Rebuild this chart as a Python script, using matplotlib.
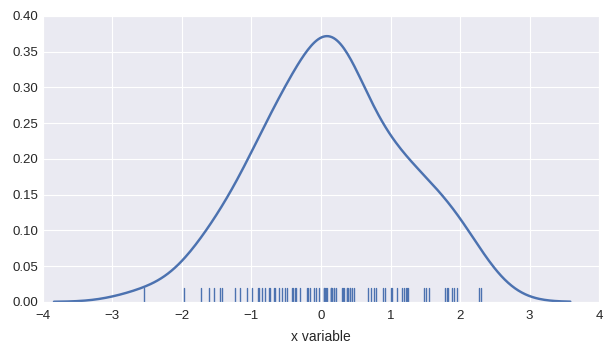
import matplotlib
matplotlib.use('Agg')

import matplotlib.pyplot as plt
import numpy as np
import seaborn as sns

# sample values (thick bars hold several close values)
x = [-2.550, -1.974, -1.719, -1.614, -1.532, -1.446, -1.417, -1.240, -1.168,
     -1.062, -0.990, -0.904, -0.885, -0.846, -0.799, -0.751, -0.727, -0.679,
     -0.655, -0.607, -0.558, -0.521, -0.486, -0.424, -0.400, -0.377, -0.353,
     -0.295, -0.199, -0.184, -0.165, -0.104, -0.079, -0.022, 0.040, 0.050,
     0.055, 0.075, 0.080, 0.137, 0.140, 0.151, 0.160, 0.184, 0.190, 0.219,
     0.305, 0.319, 0.330, 0.367, 0.380, 0.391, 0.410, 0.424, 0.449,
     0.472, 0.679, 0.712, 0.760, 0.784, 0.895, 0.918, 1.000, 1.024,
     1.086, 1.168, 1.191, 1.216, 1.240, 1.255, 1.479, 1.504, 1.551, 1.781,
     1.806, 1.830, 1.888, 1.911, 1.960, 2.271, 2.295]
x = np.array(x)

sns.set_style("darkgrid")
plt.rcParams['font.family'] = ['Liberation Sans', 'DejaVu Sans']

fig = plt.figure(figsize=(6.12, 3.53), dpi=100)
ax = fig.add_axes([0.070, 0.145, 0.909, 0.810])

# gaussian kde, like distplot(hist=False)
bw = 0.43
grid = np.linspace(x.min() - 3 * bw, x.max() + 3 * bw, 300)
dens = np.exp(-0.5 * ((grid[:, None] - x[None, :]) / bw) ** 2).sum(axis=1)
dens = dens / (len(x) * bw * np.sqrt(2 * np.pi))

blue = '#4C72B0'
ax.plot(grid, dens, color=blue, lw=1.75)
for v in x:
    ax.axvline(v, 0, 0.05, color=blue, lw=1)

ax.set_xlim(-4, 4)
ax.set_ylim(0, 0.40)
ax.set_yticks(np.arange(0, 0.401, 0.05))
ax.set_yticklabels(['%.2f' % t for t in np.arange(0, 0.401, 0.05)])
ax.tick_params(labelsize=9.5, colors='.15', length=0)
ax.tick_params(axis='x', pad=6)
ax.set_xlabel('x variable', fontsize=10, color='.15', labelpad=6)

plt.savefig('out.png')
